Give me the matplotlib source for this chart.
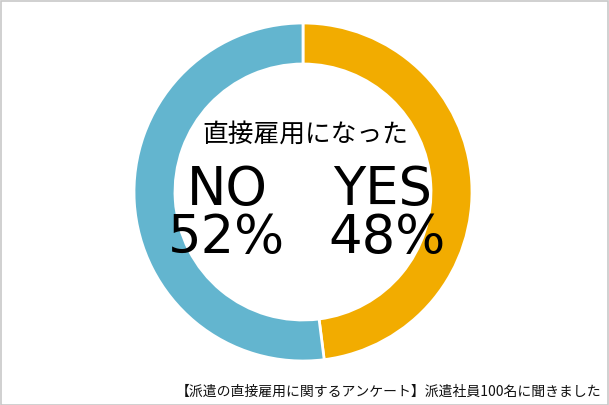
import matplotlib
matplotlib.use("Agg")
import matplotlib.pyplot as plt
from matplotlib.patches import Rectangle

plt.rcParams['font.family'] = ['Noto Sans CJK JP', 'DejaVu Sans']

labels = ["YES", "NO"]
values = [48, 52]
colors = ["#f2ac00", "#63b5cf"]
title = "直接雇用になった"
footnote = "【派遣の直接雇用に関するアンケート】派遣社員100名に聞きました"

W, H = 609, 406
fig = plt.figure(figsize=(W / 100, H / 100), dpi=100)
fig.patch.set_facecolor("white")

cx, cy, r = 303, 193, 169
ax = fig.add_axes([(cx - r) / W, 1 - (cy + r) / H, 2 * r / W, 2 * r / H])
ax.pie(values, colors=colors, startangle=90, counterclock=False, radius=1,
       wedgeprops=dict(width=41 / 169, edgecolor="white", linewidth=2))
ax.set_xlim(-1, 1)
ax.set_ylim(-1, 1)
ax.set_aspect("equal")
ax.axis("off")

def ft(x, y, s, size, **kw):
    fig.text(x / W, 1 - y / H, s, fontsize=size, ha="center", va="center", color="#000000", **kw)

ft(305, 135, title, 18.5)
big = dict(family=["DejaVu Sans"])
ft(227, 190, labels[1], 38, **big)
ft(226, 238, f"{values[1]}%", 38, **big)
ft(383, 190, labels[0], 38, **big)
ft(387, 238, f"{values[0]}%", 38, **big)

fig.text(601 / W, 1 - 392 / H, footnote, fontsize=10, ha="right", va="center", color="#111111")

fig.add_artist(Rectangle((0.5 / W, 0.5 / H), 1 - 2 / W, 1 - 2 / H, transform=fig.transFigure,
                         fill=False, edgecolor="#c8c8c8", linewidth=1.2))

fig.savefig("out.png", dpi=100, facecolor="white")
